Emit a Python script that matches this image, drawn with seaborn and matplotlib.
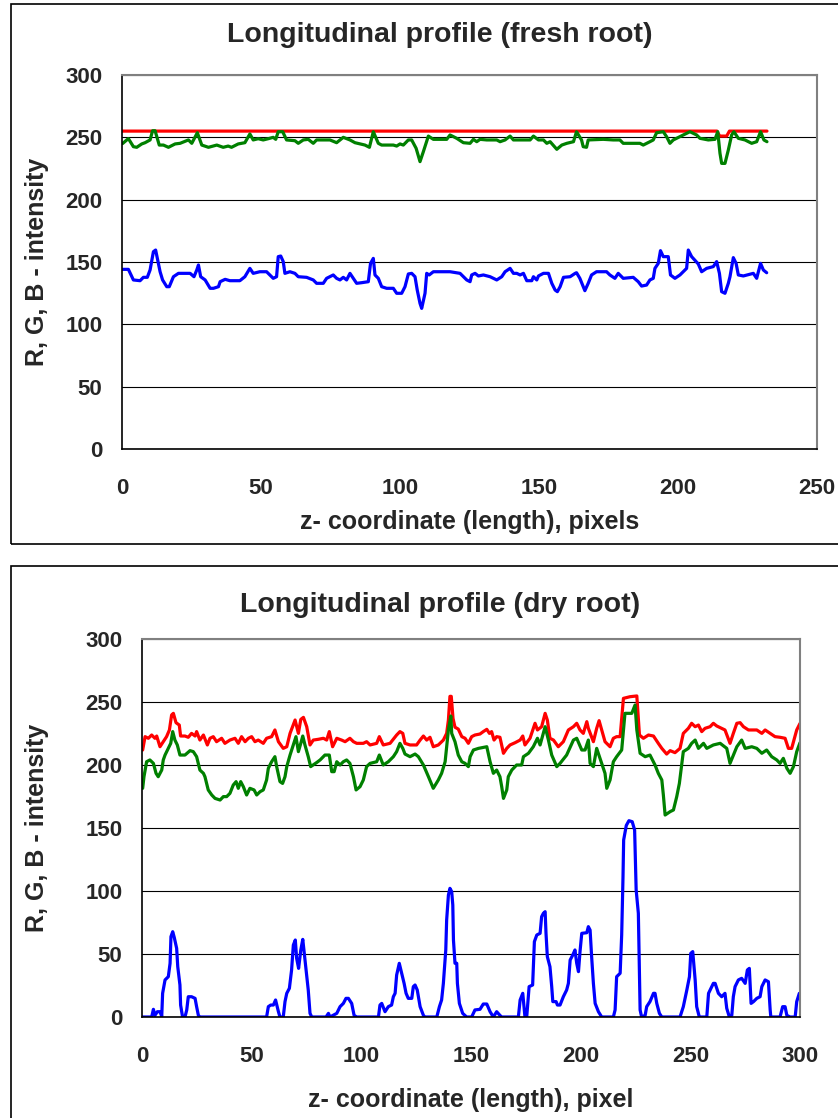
import matplotlib
matplotlib.use("Agg")
import matplotlib.pyplot as plt
import matplotlib.patches as mpatches
import seaborn as sns
import pandas as pd
import numpy as np

# ---------------- data: fresh root ----------------
fresh_red_x = [0, 214.0, 215.0, 217.5, 218.5, 232.0]
fresh_red_y = [255, 255, 251, 251, 255, 255]

fresh_green_x = [0.2, 2.3, 4.1, 5.3, 7.1, 8.3, 10.1, 11.0, 11.9, 13.4, 14.9, 16.7, 19.1, 20.9,
                 23.9, 25.1, 27.1, 28.7, 31.1, 34.1, 36.4, 38.2, 39.4, 41.8, 44.2, 46.0, 47.2,
                 49.0, 50.8, 52.6, 54.4, 55.3, 56.2, 57.8, 59.2, 62.2, 63.4, 65.2, 67.0, 68.8,
                 70.0, 74.8, 77.2, 79.6, 82.0, 83.8, 87.4, 89.0, 90.4, 92.2, 93.4, 97.6, 98.8,
                 100.0, 101.2, 103.0, 104.2, 105.8, 107.2, 108.4, 110.2, 112.0, 116.8,
                 118.0, 120.4, 122.8, 125.2, 126.4, 127.6, 128.8, 131.2, 134.8, 136.0, 137.8,
                 139.6, 140.8, 146.8, 148.0, 149.8, 151.6, 152.8, 154.0, 156.4, 158.2, 160.0,
                 162.4, 163.5, 165.3, 165.9, 167.1, 167.7, 173.1, 176.7, 179.1, 180.3, 186.3,
                 187.5, 189.9, 191.1, 192.3, 194.7, 195.9, 197.1, 198.3, 201.9, 204.3, 206.7,
                 207.9, 210.9, 213.3, 214.3, 215.1, 215.7, 216.9, 218.1, 219.3, 220.1, 221.7,
                 224.1, 226.5, 228.3, 229.7, 230.9, 232.0]
fresh_green_y = [245, 249, 242.5, 242, 244.7, 245.7, 247.9, 255.3, 255.3, 243.8, 243.8, 242, 244.7, 245.2,
                 247.9, 245.2, 253.7, 243.8, 242, 243.8, 242, 243, 242, 244.7, 245.7, 252.7, 247.9,
                 248.9, 247.9, 248.9, 250, 248.4, 254.5, 254.5, 247.9, 247.3, 245.2, 247.9, 248.4, 245.2,
                 247.9, 247.9, 245.7, 250, 247.9, 245.7, 243.8, 242, 254.5, 245.2, 243.8, 243.8, 243,
                 244.7, 243.8, 247.9, 247.9, 241.2, 230.5, 238.5, 251, 248.4, 248.4,
                 251.9, 249.2, 245.7, 245.2, 248.4, 246.5, 248.4, 247.9, 247.9, 246.5, 247.9,
                 251, 247.9, 247.9, 251, 247.9, 247.9, 245.2, 246.5, 240.4, 243.8, 245.2,
                 246.5, 254.5, 247.9, 242.5, 242, 247.9, 248.4, 247.9, 247.9, 245.2, 245.2,
                 243.8, 246.5, 247.9, 253.7, 254.5, 250.5, 245.2, 247.9, 251.9, 254.5, 251.9,
                 249.2, 247.9, 248.4, 254.5, 237.2, 229.1, 229.1, 239.8, 251.9, 254.5, 249.2,
                 247.9, 245.2, 246.5, 254.5, 247.9, 246.5]

fresh_blue_x = [0.2, 2.3, 4.1, 6.5, 7.7, 9.1, 10.1, 11.3, 12.1, 13.1, 13.7, 14.6, 16.1, 17.0, 18.5,
                20.3, 24.5, 25.9, 26.9, 27.5, 28.3, 29.9, 31.7, 32.9, 34.7, 35.3, 37.1, 38.8, 42.4,
                44.2, 46.0, 47.2, 49.6, 52.0, 53.2, 54.4, 55.6, 56.2, 57.1, 58.0, 58.6, 60.4, 62.2,
                63.4, 66.4, 68.8, 70.0, 72.4, 73.6, 76.0, 77.2, 78.4, 79.6, 80.8, 82.0, 83.2, 84.4,
                86.2, 88.6, 89.4, 90.4, 91.0, 92.2, 93.4, 95.2, 97.6, 98.8, 100.6, 101.8, 103.0,
                104.2, 105.4, 106.2, 107.2, 107.8, 109.0, 109.6, 110.5, 112.0, 116.8,
                118.0, 121.6, 124.0, 125.2, 125.8, 127.0, 128.2, 130.0, 132.4, 134.8, 136.6, 137.8,
                139.6, 140.8, 142.0, 143.2, 144.4, 145.6, 147.4, 148.0, 149.2, 149.8, 151.6, 153.4,
                154.6, 155.8, 156.6, 157.6, 158.8, 161.2, 163.0, 163.5, 164.7, 165.9, 166.5, 167.7,
                168.9, 170.7, 174.3, 175.5, 177.3, 178.5, 180.3, 183.9, 185.7, 186.9, 188.7, 189.9,
                191.1, 191.7, 192.9, 193.7, 194.7, 196.5, 197.3, 198.9, 200.7, 201.9, 203.1, 203.7,
                204.9, 207.3, 208.5, 210.3, 212.7, 213.9, 214.9, 215.7, 216.9, 218.1, 218.7, 219.9,
                220.9, 221.7, 223.5, 227.1, 228.3, 229.7, 230.7, 231.9]
fresh_blue_y = [144.1, 144.1, 135.6, 135, 137.7, 137.7, 143.6, 158.3, 159.6, 148.9, 142.2, 135.6, 130.2, 130.2, 138.2,
                140.9, 140.9, 138.2, 143.6, 147.6, 138.2, 135.6, 128.9, 128.9, 130.2, 134.2, 136.1, 135, 135,
                138.2, 144.9, 140.9, 142.2, 142.2, 139.6, 136.9, 138.2, 154.3, 154.8, 150.3, 140.9, 142.2, 140.9,
                138.2, 137.7, 135.6, 132.9, 132.9, 136.9, 139.6, 136.9, 135.6, 137.7, 135.6, 140.9, 136.9, 132.9,
                133.4, 134.2, 148.9, 152.9, 139.6, 136.9, 130.2, 128.9, 128.9, 124.9, 124.9, 130.2, 140.4,
                140.9, 138.2, 127.5, 116.8, 112.8, 124.9, 140.9, 139.6, 142.2, 142.2,
                142.2, 140.9, 135.6, 134.2, 139.6, 140.9, 138.8, 139.6, 138.2, 135.6, 138.2, 142.2,
                144.9, 140.9, 140.9, 139.6, 140.9, 135, 135, 138.2, 135.6, 138.8, 140.9, 140.9,
                132.9, 127.5, 126.2, 130.2, 137.7, 138.2, 140.9, 141.4, 136.9, 130.2, 127, 132.9,
                139.6, 142.2, 142.2, 139.6, 136.9, 140.9, 136.9, 137.7, 134.2, 130.7, 131.5, 135.6,
                136.9, 144.9, 148.9, 159.1, 154.3, 154.3, 139.6, 136.9, 139.6, 142.2, 144.9, 159.6,
                154.3, 148.4, 142.2, 144.9, 146.3, 150.3, 140.9, 126.2, 124.9, 132.9, 138.2, 153.5,
                148.9, 139.6, 138.8, 140.9, 136.9, 148.9, 143.6, 141.4]

# ---------------- data: dry root ----------------
dry_red_x = [0.3, 1.4, 2.9, 4.4, 5.9, 6.7, 8.2, 9.7, 11.2, 12.5, 13.5, 14.3, 15.5, 17.0, 17.6, 19.6,
             21.1, 22.6, 24.2, 24.9, 26.4, 28.0, 29.8, 31.0, 32.5, 34.0, 36.3, 37.8, 40.1, 42.4, 43.9,
             45.4, 47.0, 48.5, 50.0, 51.5, 53.0, 55.3, 56.8, 59.1, 60.6, 62.2, 64.4, 66.0, 67.5, 69.8,
             71.3, 72.4, 73.6, 75.1, 76.6, 78.1, 80.4, 82.7, 84.2, 85.4, 86.9, 88.8, 91.0, 92.6, 94.8,
             96.4, 97.9, 100.9, 102.4, 104.0, 107.0, 108.2, 110.0, 113.1, 116.1, 117.6, 118.9, 119.9,
             122.2, 125.2, 126.8, 128.3, 129.8, 131.3, 132.8, 135.1, 137.4, 138.9, 139.7, 140.4, 141.0,
             141.8, 142.7, 144.2, 145.8, 147.3, 148.8, 150.3, 151.8, 154.1, 155.6, 157.2, 158.4, 159.4,
             160.5, 161.7, 163.2, 164.8, 166.3, 167.8, 170.1, 172.4, 173.6, 174.6, 176.9, 179.2, 180.3,
             182.2, 183.8, 184.8, 186.0, 187.6, 189.8, 192.1, 194.4, 196.7, 198.2, 199.7, 201.2, 202.8,
             203.5, 205.8, 207.3, 208.4, 209.6, 211.1, 213.4, 214.9, 216.4, 218.0, 219.5, 222.5, 225.6,
             226.8, 228.6, 230.9, 233.2, 235.4, 237.0, 239.2, 240.8, 243.0, 245.3, 246.8, 249.1, 250.6,
             252.2, 253.7, 255.2, 256.7, 259.0, 260.5, 262.0, 264.3, 265.8, 268.1, 269.6, 271.2, 272.7,
             274.2, 276.5, 280.3, 282.6, 284.1, 286.4, 288.6, 290.9, 293.2, 294.7, 296.2, 298.5, 300.0]
dry_red_y = [211.9, 222.5, 221.2, 223.8, 221.2, 223, 214.5, 218.5, 222.5, 227.8, 239.7, 241, 233.6, 231.7, 223, 223,
             222, 225.1, 223, 226.5, 219.8, 223.8, 215.9, 221.2, 222.5, 218.5, 221.2, 217.2, 219.8, 221.2, 217.2,
             222.5, 218.5, 221.2, 222.5, 218.5, 219.8, 217.2, 221.2, 222.5, 227.8, 218.5, 213.2, 214.5, 225.1, 235.7,
             225.1, 236.2, 237.8, 230.4, 215.9, 219.8, 220.4, 221.2, 219.8, 226.5, 214.5, 221.2, 219.8, 218.5, 221.2,
             218.5, 217.2, 217.2, 218.5, 215.9, 217.2, 222.5, 215.9, 217.2, 223.8, 226.5, 225.1, 217.2,
             215.9, 215.9, 219.8, 223, 219.8, 222, 214.5, 215.9, 219.8, 225.1, 235.7, 254.5, 254.5,
             237, 230, 228.5, 222.5, 221.2, 217.2, 222.5, 223.8, 224.6, 226.5, 228.3, 225.1, 226.5,
             219.8, 222.5, 222, 209.3, 213.2, 215.9, 217.7, 219.8, 223, 215.9, 221.2, 233.1, 227.8,
             230.4, 241, 235.7, 221.2, 219.8, 214.5, 218.5, 227.8, 230.4, 233.1, 227.8, 225.1, 234.4,
             229.1, 218.5, 229.1, 235.2, 227.8, 218.5, 214.5, 221.2, 222.5, 222.5, 252.9, 254.2, 254.8,
             223.8, 221.2, 223.8, 223, 217.2, 213.2, 208.7, 211.4, 209.8, 213.2, 225.1, 229.1, 233.1,
             230.4, 231.7, 226.5, 229.1, 230.4, 233.1, 231, 229.1, 227.8, 217.2, 225.1, 233.1, 233.6,
             230.4, 227.8, 227.8, 225.1, 227.8, 225.1, 222.5, 222, 221.2, 213.2, 213.2, 227.8, 233]

dry_green_x = [0.3, 0.9, 2.1, 3.6, 5.2, 6.4, 7.4, 9.0, 9.7, 10.5, 12.0, 13.1, 14.0, 15.0, 16.1, 17.3,
               19.6, 21.9, 23.4, 24.9, 26.4, 28.0, 28.7, 30.2, 31.8, 33.3, 35.6, 37.1, 38.6, 40.1, 41.6,
               42.9, 43.9, 45.0, 46.2, 47.7, 49.2, 51.1, 52.3, 53.8, 55.3, 56.8, 57.6, 59.1, 60.6, 61.4,
               62.9, 64.1, 65.2, 66.0, 67.5, 69.0, 70.2, 71.3, 72.4, 73.3, 74.3, 75.8, 76.9, 79.6, 81.2,
               83.4, 85.4, 86.5, 87.6, 88.8, 90.3, 91.8, 93.3, 94.8, 96.4, 97.6, 99.4, 100.9, 102.4,
               104.0, 107.0, 108.2, 110.0, 112.3, 114.6, 116.1, 117.6, 118.9, 119.9, 122.2, 124.5, 126.0,
               128.3, 130.6, 132.8, 135.1, 136.6, 138.2, 139.7, 140.8, 141.2, 142.7, 144.2, 145.8, 147.3,
               148.8, 149.6, 151.1, 153.4, 155.6, 157.2, 158.7, 160.2, 161.7, 163.2, 164.0, 164.8, 166.3,
               167.0, 168.6, 170.8, 173.1, 173.9, 176.2, 178.4, 180.3, 181.5, 183.8, 185.3, 186.8, 189.1,
               190.6, 193.6, 196.7, 198.2, 200.5, 202.0, 203.5, 204.3, 205.8, 207.3, 208.8, 211.1, 211.9,
               213.4, 214.9, 216.4, 218.7, 220.2, 223.3, 224.8, 225.6, 227.1, 229.4, 231.6, 233.9, 235.4,
               237.0, 237.7, 238.5, 240.8, 242.3, 243.8, 245.0, 246.8, 249.1, 250.6, 252.2, 253.7, 256.0,
               257.5, 260.5, 263.6, 266.6, 268.1, 271.2, 273.4, 275.0, 278.0, 280.3, 282.6, 284.8, 287.1,
               289.4, 290.9, 292.4, 294.0, 295.5, 297.0, 298.5, 300.0]
dry_green_y = [181.5, 190.7, 202.6, 204, 201.3, 193.4, 190.7, 196, 204, 207.9, 213.2, 217.2, 226.5, 219.8, 215.9, 207.9,
               207.9, 211.4, 210.6, 206.6, 196, 193.4, 190.7, 180.2, 176.2, 173.5, 172.2, 174.9, 174.9, 177.5, 184.1,
               186.8, 181.5, 186.8, 182.8, 176.2, 181.5, 180.2, 176.2, 178.8, 180.2, 188.1, 197.4, 202.6, 206.6, 198.7,
               186.8, 185.4, 190.7, 198.7, 207.9, 215.9, 222.5, 210.6, 217.2, 223, 215.9, 206.6, 198.7, 201.9, 204,
               207.9, 207.9, 194.7, 194.7, 202.6, 200, 202.6, 204, 201.3, 190.7, 180.2, 182.8, 188.1, 198.7,
               201.3, 202.6, 207.9, 200, 202.6, 206.6, 210.6, 217.2, 213.2, 208.7, 206.6, 208.7, 206.6,
               200, 190.7, 181.5, 188.1, 193.4, 202.6, 227.8, 238.9, 225.1, 218.5, 207.9, 202.6, 201.3,
               198.7, 206.6, 211.9, 213.2, 214, 214.5, 202.6, 193.4, 196, 190.7, 182.8, 173.5, 180.2,
               190.7, 196, 200, 200, 206.6, 209.3, 214.5, 221.2, 215.9, 230.4, 219.8, 207.9, 198.7,
               201.3, 207.9, 219.8, 221.2, 211.9, 211.9, 219.8, 201.3, 198.7, 213.2, 205.3, 193.4, 181.5,
               188.1, 202.6, 206.6, 211.9, 241, 241, 247.6, 227.8, 209.3, 206.6, 207.9, 200, 193.4,
               188.1, 176.2, 160.3, 163, 164.3, 174.9, 185.4, 210.6, 213.2, 217.2, 219.8, 213.2, 217.2,
               213.2, 215.9, 217.2, 213.2, 201.3, 214.5, 219.8, 213.2, 214.5, 213.2, 209.3, 211.9, 206.6,
               204, 201.3, 205.3, 197.4, 193.4, 198.7, 210.6, 217.7]

dry_blue_x = [0.0, 3.6, 4.4, 5.2, 5.9, 7.0, 8.2, 9.0, 9.4, 10.5, 12.0, 12.8, 13.2, 14.0, 14.7, 15.8, 16.3,
              17.3, 17.6, 18.5, 19.6, 20.4, 21.1, 22.6, 24.2, 24.9, 25.7, 26.4, 56.8, 57.6, 58.7, 59.9,
              60.9, 62.2, 62.9, 64.4, 65.2, 66.0, 67.2, 68.2, 69.0, 69.9, 70.5, 71.4, 72.4, 73.3, 74.3,
              75.8, 76.6, 77.4, 83.9, 85.0, 85.7, 88.8, 90.3, 91.8, 93.0, 94.1, 95.6, 96.7, 97.9, 107.8,
              108.5, 109.3, 110.8, 112.3, 113.8, 114.6, 115.4, 116.1, 117.3, 118.4, 119.5, 120.4, 121.4,
              123.0, 123.7, 124.5, 125.5, 126.8, 128.3, 129.0, 134.4, 135.6, 136.6, 137.4, 138.5, 138.9,
              139.7, 140.4, 141.2, 141.7, 142.0, 142.7, 143.5, 143.8, 144.7, 146.2, 148.0, 150.3, 151.8,
              154.1, 155.6, 157.2, 158.7, 160.2, 161.7, 163.2, 164.0, 171.6, 172.4, 173.6, 174.6, 175.4,
              176.5, 178.1, 178.9, 180.0, 181.5, 182.2, 183.0, 183.8, 184.2, 184.8, 186.0, 186.8, 187.3,
              188.8, 189.4, 190.6, 192.1, 193.6, 194.4, 195.2, 196.4, 197.4, 198.2, 199.0, 199.7, 200.5,
              202.8, 203.5, 204.3, 205.0, 205.8, 206.6, 208.1, 209.6, 214.9, 215.7, 216.4, 218.0, 218.7,
              219.3, 219.6, 220.8, 222.0, 223.5, 224.6, 225.0, 225.3, 226.3, 227.1, 227.8, 229.4, 230.1,
              231.6, 233.2, 233.9, 234.7, 235.9, 237.0, 245.3, 246.8, 248.4, 249.6, 250.2, 251.1, 252.2,
              252.9, 254.1, 257.5, 258.3, 260.5, 261.3, 262.8, 264.3, 265.8, 266.6, 267.8, 268.9, 269.6,
              270.4, 271.9, 273.4, 275.0, 276.0, 276.9, 277.7, 278.8, 280.3, 281.8, 282.6, 284.1, 285.6,
              286.4, 286.7, 290.9, 292.1, 293.2, 294.0, 295.5, 297.8, 298.5, 299.7, 300.0]
dry_blue_y = [0, 0, 0, 6.1, 1.3, 4.2, 4.2, 0.5, 18.8, 29.4, 32, 42.6, 63.8, 67.7, 63.2, 54.5, 39.9,
              25.4, 9.5, 0, 0, 5.6, 16.1, 16.1, 14.8, 8.2, 1.3, 0, 0, 8.2, 9.5, 9.5,
              13.5, 4.2, 0, 0, 12.2, 18.8, 22.8, 37.3, 57.1, 61.1, 46.6, 38.6, 53.2, 61.6, 45.2,
              21.4, 2.9, 0, 0, 2.9, 0, 2.9, 8.2, 10.8, 14.8, 14.8, 10.8, 1.3, 0, 0,
              9.5, 10.8, 4.2, 8.2, 9.5, 16.1, 18.8, 33.3, 42.6, 34.7, 26.7, 18.8, 14.8,
              14.8, 24.1, 25.4, 21.4, 8.2, 1.3, 0, 0, 8.2, 13.5, 26.7, 53.2, 77.0,
              96.8, 102.1, 99.5, 88.9, 61.1, 42.6, 42.6, 26.7, 10.8, 2.9, 0, 0, 5.6,
              6.1, 10.3, 10.3, 4.2, 0, 4.2, 1.3, 0, 0, 13.5, 18.8, 0, 0,
              24.1, 25.4, 59.8, 65.1, 66.4, 79.6, 82.3, 83.6, 66.4, 47.9, 39.9, 24.1, 12.2,
              12.2, 9.5, 9.5, 16.1, 21.4, 26.7, 45.2, 49.2, 53.2, 42.6, 36, 51.9, 66.4,
              66.9, 71.7, 69, 47.9, 26.7, 10.8, 4.2, 0, 0, 5.6, 32, 34.7, 65.1,
              111, 140.5, 152, 155.8, 155, 148.4, 120, 100.8, 82.3, 5.6, 0, 1.3, 8.2,
              12.2, 18.8, 18.8, 10.8, 2.9, 0, 0, 8.2, 21.4, 32, 50.5, 51.9, 29.4,
              8.2, 0, 0, 18.8, 26.7, 26.7, 18.8, 16.1, 18.8, 6.9, 0, 1.3, 16.1,
              24.1, 29.4, 30.7, 26.7, 37.3, 38.6, 10.8, 12.2, 14.8, 16.1, 24.1, 29.4, 28,
              5.6, 0, 0, 8.2, 8.2, 1.3, 0, 0, 12.2, 18.8, 17.5]

y_ticks = [0, 50, 100, 150, 200, 250, 300]
fresh_x_ticks = [0, 50, 100, 150, 200, 250]
dry_x_ticks = [0, 50, 100, 150, 200, 250, 300]

fresh_title = "Longitudinal profile (fresh root)"
dry_title = "Longitudinal profile (dry root)"
fresh_xlabel = "z- coordinate (length), pixels"
dry_xlabel = "z- coordinate (length), pixel"
ylabel = "R, G, B - intensity"

# ---------------- styling ----------------
sns.set_theme(style="white")
plt.rcParams['font.family'] = ['Liberation Sans', 'DejaVu Sans']
plt.rcParams['font.weight'] = 'bold'

W, H = 838, 1118
fig = plt.figure(figsize=(W / 100, H / 100), dpi=100)
fig.patch.set_facecolor("white")

TICK_FS = 16
LABEL_FS = 18
TITLE_FS = 20.5


def px_rect(l, t, r, b):
    return [l / W, 1 - b / H, (r - l) / W, (b - t) / H]


def make_panel(rect, xlim, xticks, series, title, xlabel, title_y, xlabel_y, label_x):
    ax = fig.add_axes(px_rect(*rect))
    for xs, ys, col in series:
        df = pd.DataFrame({"x": xs, "y": ys})
        sns.lineplot(data=df, x="x", y="y", ax=ax, color=col, linewidth=2.3,
                     estimator=None, sort=False, legend=False)
    ax.set_xlim(*xlim)
    ax.set_ylim(0, 300)
    ax.set_xticks(xticks)
    ax.set_yticks(y_ticks)
    ax.set_xlabel("")
    ax.set_ylabel("")
    ax.yaxis.grid(True, color="black", linewidth=0.8)
    ax.xaxis.grid(False)
    ax.set_axisbelow(True)
    for s in ["top", "right"]:
        ax.spines[s].set_color("#808080")
        ax.spines[s].set_linewidth(1.5)
    for s in ["left", "bottom"]:
        ax.spines[s].set_color("black")
        ax.spines[s].set_linewidth(1.2)
    ax.tick_params(axis="both", direction="out", length=5, width=1, color="black",
                   labelsize=TICK_FS)
    ax.tick_params(axis="x", pad=16)
    ax.tick_params(axis="y", pad=9)
    for lab in ax.get_xticklabels() + ax.get_yticklabels():
        lab.set_fontweight("bold")
    cx = (rect[0] + rect[2]) / 2
    fig.text(440 / W, 1 - title_y / H, title, ha="center", va="center",
             fontsize=TITLE_FS, fontweight="bold")
    fig.text(cx / W, 1 - xlabel_y / H, xlabel, ha="center", va="center",
             fontsize=LABEL_FS, fontweight="bold")
    cy = (rect[1] + rect[3]) / 2
    fig.text(label_x / W, 1 - cy / H, ylabel, ha="center", va="center",
             rotation=90, fontsize=LABEL_FS, fontweight="bold")
    return ax


make_panel((122, 75, 817, 449), (0, 250), fresh_x_ticks,
           [(fresh_red_x, fresh_red_y, "#FF0000"),
            (fresh_green_x, fresh_green_y, "#008000"),
            (fresh_blue_x, fresh_blue_y, "#0000FF")],
           fresh_title, fresh_xlabel, 35, 522, 37)

make_panel((142, 639, 800, 1017), (0, 300), dry_x_ticks,
           [(dry_red_x, dry_red_y, "#FF0000"),
            (dry_green_x, dry_green_y, "#008000"),
            (dry_blue_x, dry_blue_y, "#0000FF")],
           dry_title, dry_xlabel, 605, 1100, 37)

# outer chart-area frames
fig.add_artist(mpatches.Rectangle(((11) / W, 1 - 544 / H), (840 - 11) / W, (544 - 4) / H,
                                  transform=fig.transFigure, fill=False,
                                  edgecolor="black", linewidth=1.2))
fig.add_artist(mpatches.Rectangle(((11) / W, 1 - 1125 / H), (840 - 11) / W, (1125 - 566) / H,
                                  transform=fig.transFigure, fill=False,
                                  edgecolor="black", linewidth=1.2))

fig.savefig("out.png", dpi=100, facecolor="white")
